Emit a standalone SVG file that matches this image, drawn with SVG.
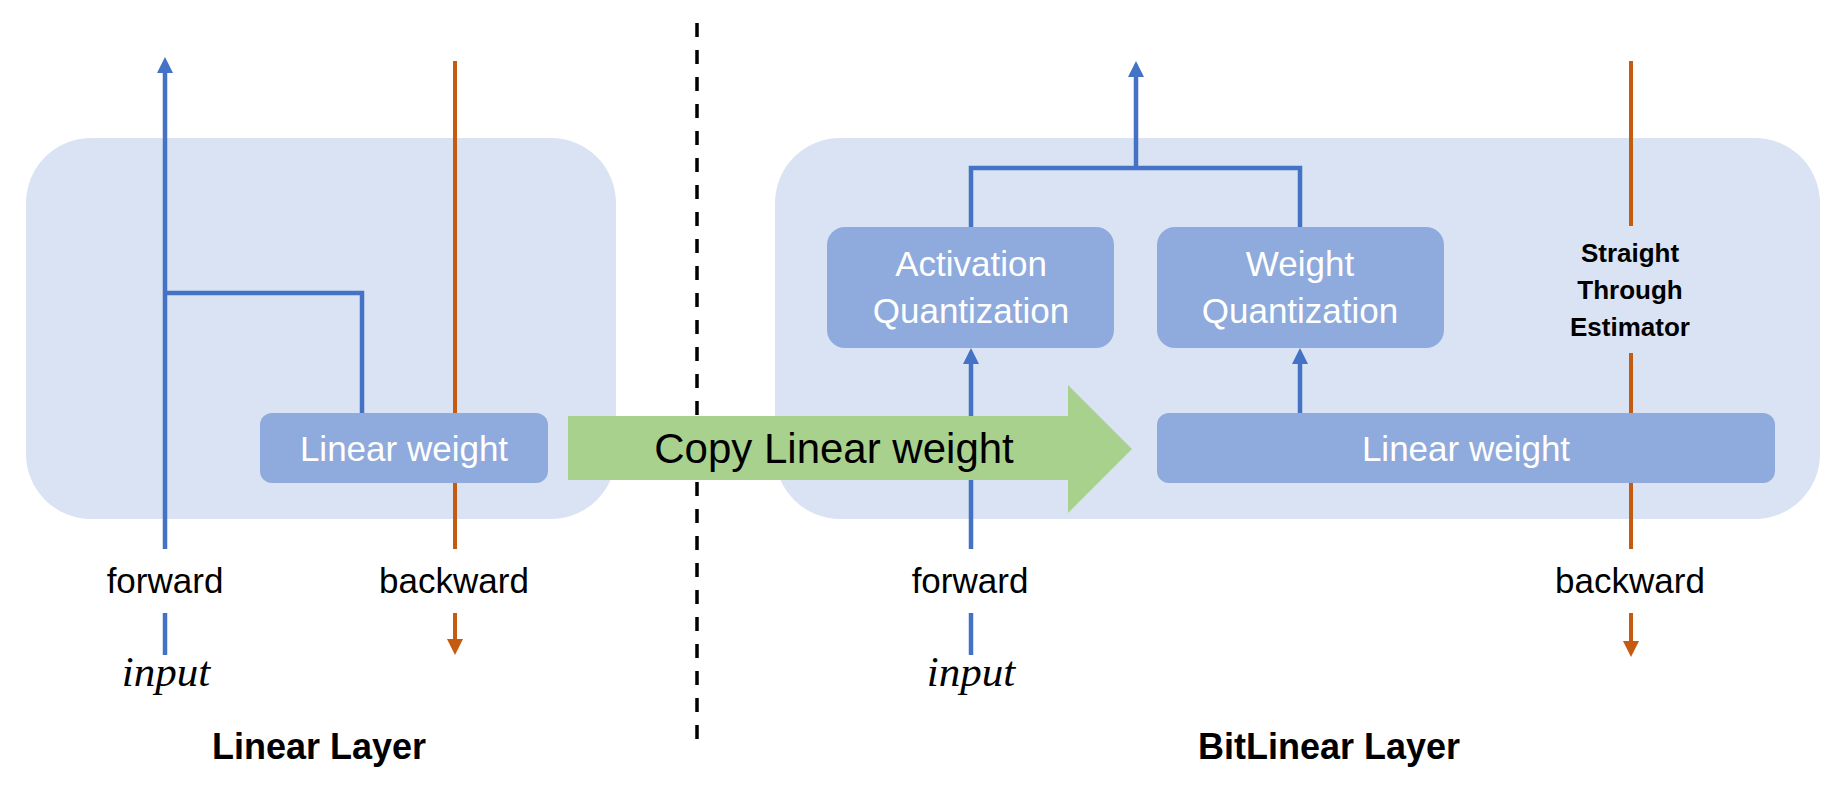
<svg xmlns="http://www.w3.org/2000/svg" width="1836" height="788" viewBox="0 0 1836 788">
<style>
.cont{fill:#DAE3F3}
.box{fill:#8FAADC}
.blue{stroke:#4472C4;stroke-width:4.5;fill:none}
.orange{stroke:#C55A11;stroke-width:4;fill:none}
.t{font-family:"Liberation Sans",Arial,sans-serif;text-anchor:middle}
.bt{font-family:"Liberation Sans",Arial,sans-serif;text-anchor:middle;fill:#FFFFFF;font-size:35px}
.lbl{font-family:"Liberation Sans",Arial,sans-serif;text-anchor:middle;fill:#000;font-size:35px}
.inp{font-family:"Liberation Serif","Times New Roman",serif;font-style:italic;text-anchor:middle;font-size:43px;fill:#000}
.title{font-family:"Liberation Sans",Arial,sans-serif;text-anchor:middle;font-weight:bold;font-size:36px;fill:#000}
</style>
<defs>
<marker id="ab" markerUnits="userSpaceOnUse" markerWidth="16" markerHeight="16" refX="0" refY="8" orient="auto" viewBox="0 0 16 16">
<path d="M0,0 L16,8 L0,16 z" fill="#4472C4"/>
</marker>
<marker id="ao" markerUnits="userSpaceOnUse" markerWidth="16" markerHeight="16" refX="0" refY="8" orient="auto" viewBox="0 0 16 16">
<path d="M0,0 L16,8 L0,16 z" fill="#C55A11"/>
</marker>
</defs>

<g id="linear-layer-container">
<rect class="cont" x="26" y="138" width="590" height="381" rx="65" ry="65"/>
</g>
<g id="bitlinear-layer-container">
<rect class="cont" x="775" y="138" width="1045" height="381" rx="65" ry="65"/>
</g>

<g id="divider">
<line x1="697" y1="23" x2="697" y2="746" stroke="#000" stroke-width="3.5" stroke-dasharray="14,13"/>
</g>

<g id="connectors">
<!-- left forward -->
<line class="blue" x1="165" y1="549" x2="165" y2="73" marker-end="url(#ab)"/>
<polyline class="blue" points="165,293 362,293 362,414"/>
<line class="blue" x1="165" y1="613" x2="165" y2="655"/>
<!-- left backward -->
<line class="orange" x1="455" y1="61" x2="455" y2="549"/>
<line class="orange" x1="455" y1="613" x2="455" y2="639" marker-end="url(#ao)"/>
<!-- right forward -->
<line class="blue" x1="971" y1="549" x2="971" y2="364" marker-end="url(#ab)"/>
<line class="blue" x1="971" y1="613" x2="971" y2="655"/>
<polyline class="blue" points="971,228 971,168 1300,168 1300,228"/>
<line class="blue" x1="1136" y1="168" x2="1136" y2="77" marker-end="url(#ab)"/>
<line class="blue" x1="1300" y1="414" x2="1300" y2="364" marker-end="url(#ab)"/>
<!-- right backward -->
<line class="orange" x1="1631" y1="61" x2="1631" y2="226"/>
<line class="orange" x1="1631" y1="353" x2="1631" y2="549"/>
<line class="orange" x1="1631" y1="613" x2="1631" y2="641" marker-end="url(#ao)"/>
</g>

<g id="linear-weight-left">
<rect class="box" x="260" y="413" width="288" height="70" rx="12" ry="12"/>
<text class="bt" x="404" y="461">Linear weight</text>
</g>

<g id="activation-quantization">
<rect class="box" x="827" y="227" width="287" height="121" rx="18" ry="18"/>
<text class="bt" x="971" y="276">Activation</text>
<text class="bt" x="971" y="323">Quantization</text>
</g>

<g id="weight-quantization">
<rect class="box" x="1157" y="227" width="287" height="121" rx="18" ry="18"/>
<text class="bt" x="1300" y="276">Weight</text>
<text class="bt" x="1300" y="323">Quantization</text>
</g>

<g id="linear-weight-right">
<rect class="box" x="1157" y="413" width="618" height="70" rx="12" ry="12"/>
<text class="bt" x="1466" y="461">Linear weight</text>
</g>

<g id="copy-arrow">
<polygon points="568,416 1068,416 1068,385 1132,449 1068,513 1068,480 568,480" fill="#A9D18E"/>
<text class="t" x="834" y="463" font-size="42" fill="#000">Copy Linear weight</text>
</g>

<g id="ste-label">
<text class="t" x="1630" y="262" font-size="26" font-weight="bold" fill="#000">Straight</text>
<text class="t" x="1630" y="299" font-size="26" font-weight="bold" fill="#000">Through</text>
<text class="t" x="1630" y="336" font-size="26" font-weight="bold" fill="#000">Estimator</text>
</g>

<g id="labels">
<text class="lbl" x="165" y="593">forward</text>
<text class="lbl" x="454" y="593">backward</text>
<text class="inp" x="166" y="686">input</text>
<text class="lbl" x="970" y="593">forward</text>
<text class="inp" x="971" y="686">input</text>
<text class="lbl" x="1630" y="593">backward</text>
<text class="title" x="319" y="759">Linear Layer</text>
<text class="title" x="1329" y="759">BitLinear Layer</text>
</g>
</svg>
